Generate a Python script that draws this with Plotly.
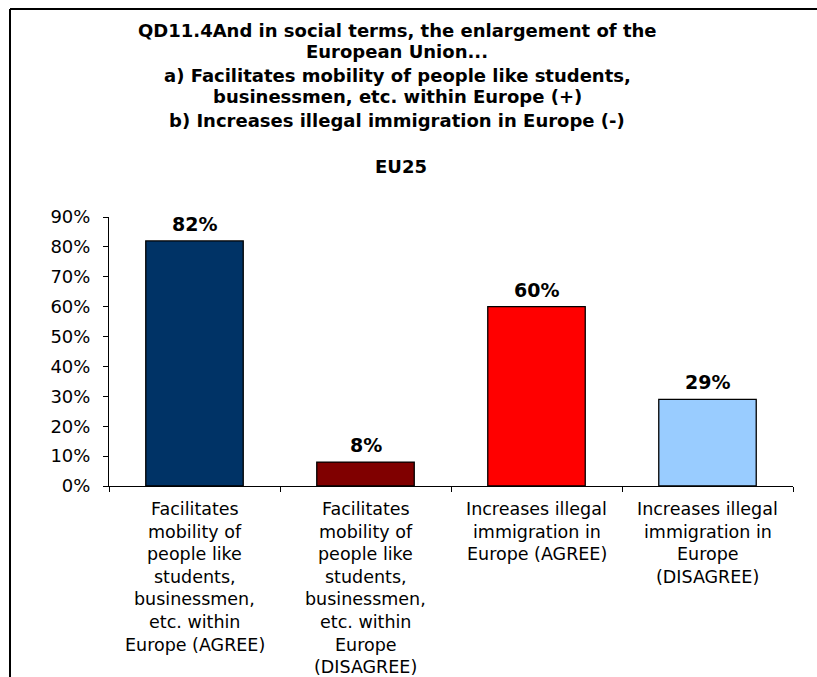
import plotly.graph_objects as go

# Survey results, EU25
categories = [
    "Facilitates mobility of people like students, businessmen, etc. within Europe (AGREE)",
    "Facilitates mobility of people like students, businessmen, etc. within Europe (DISAGREE)",
    "Increases illegal immigration in Europe (AGREE)",
    "Increases illegal immigration in Europe (DISAGREE)",
]
category_lines = [
    ["Facilitates", "mobility of", "people like", "students,", "businessmen,", "etc. within", "Europe (AGREE)"],
    ["Facilitates", "mobility of", "people like", "students,", "businessmen,", "etc. within", "Europe", "(DISAGREE)"],
    ["Increases illegal", "immigration in", "Europe (AGREE)"],
    ["Increases illegal", "immigration in", "Europe", "(DISAGREE)"],
]
values = [0.82, 0.08, 0.60, 0.29]
colors = ["#003366", "#800000", "#FF0000", "#99CCFF"]
y_ticks = [0.0, 0.1, 0.2, 0.3, 0.4, 0.5, 0.6, 0.7, 0.8, 0.9]
title_lines = [
    "QD11.4And in social terms, the enlargement of the",
    "European Union...",
    "a) Facilitates mobility of people like students,",
    "businessmen, etc. within Europe (+)",
    "b) Increases illegal immigration in Europe (-)",
]
subtitle = "EU25"

W, H = 817, 677
L, R, T, B = 109, 24, 217, 191
plot_h = H - T - B
FONT = "DejaVu Sans"

def py(pixel_y):
    """Convert a page pixel row to paper y coordinate."""
    return (H - B - pixel_y) / plot_h

def px(pixel_x):
    return (pixel_x - L) / (W - L - R)

xs = list(range(len(categories)))

fig = go.Figure()
fig.add_trace(go.Bar(
    x=xs,
    y=values,
    width=0.57,
    marker=dict(color=colors, line=dict(color="#000000", width=1.3)),
    hovertext=categories,
))

annotations = []

# value labels above each bar
for i, v in enumerate(values):
    annotations.append(dict(
        text=f"<b>{round(v * 100)}%</b>", x=i, y=v, xref="x", yref="y",
        xanchor="center", yanchor="bottom", yshift=4, showarrow=False,
        font=dict(family=FONT, size=19, color="#000000"),
    ))

title_y = [30, 52, 75, 97, 120]
for line, yy in zip(title_lines, title_y):
    annotations.append(dict(
        text=f"<b>{line}</b>", x=px(397), y=py(yy), xref="paper", yref="paper",
        xanchor="center", yanchor="middle", showarrow=False,
        font=dict(family=FONT, size=18, color="#000000"),
    ))
annotations.append(dict(
    text=f"<b>{subtitle}</b>", x=px(401), y=py(166), xref="paper", yref="paper",
    xanchor="center", yanchor="middle", showarrow=False,
    font=dict(family=FONT, size=18, color="#000000"),
))

# wrapped category labels under the axis
for i, lines in enumerate(category_lines):
    for j, line in enumerate(lines):
        annotations.append(dict(
            text=line, x=i, y=py(509 + 22.6 * j), xref="x", yref="paper",
            xanchor="center", yanchor="middle", showarrow=False,
            font=dict(family=FONT, size=17.5, color="#000000"),
        ))

fig.update_layout(
    width=W, height=H,
    margin=dict(l=L, r=R, t=T, b=B, autoexpand=False),
    paper_bgcolor="#FFFFFF",
    plot_bgcolor="#FFFFFF",
    showlegend=False,
    annotations=annotations,
    xaxis=dict(
        range=[-0.5, len(categories) - 0.5],
        tickvals=[k - 0.5 for k in range(len(categories) + 1)],
        showticklabels=False,
        ticks="outside", ticklen=5, tickcolor="#000000",
        showline=True, linecolor="#000000", linewidth=1,
        showgrid=False, zeroline=False,
    ),
    yaxis=dict(
        range=[0, 0.9],
        tickvals=y_ticks,
        tickformat=".0%",
        ticks="outside", ticklen=5, tickcolor="#000000",
        ticklabelstandoff=9,
        tickfont=dict(family=FONT, size=18, color="#000000"),
        showline=True, linecolor="#000000", linewidth=1,
        showgrid=False, zeroline=False,
    ),
    shapes=[
        dict(type="line", xref="paper", yref="paper", x0=px(10), x1=px(W + 5), y0=py(9), y1=py(9),
             line=dict(color="#000000", width=2)),
        dict(type="line", xref="paper", yref="paper", x0=px(10), x1=px(10), y0=py(9), y1=py(H + 5),
             line=dict(color="#000000", width=2)),
    ],
)

fig.write_html("out.html")
